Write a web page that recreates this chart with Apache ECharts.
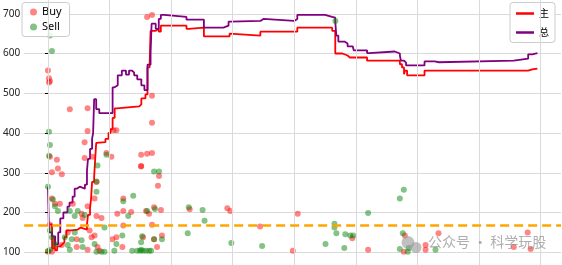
<!DOCTYPE html>
<html><head><meta charset="utf-8">
<script src="https://cdn.jsdelivr.net/npm/echarts/dist/echarts.min.js"></script>
<style>html,body{margin:0;padding:0;background:#fff;overflow:hidden;width:562px;height:265px}#c{position:absolute;left:0;top:-31.5px;width:562px;height:328px}</style>
</head><body><div id="c"></div>
<script>
// x = trading day index, y = value
const mainLine = [[2,170],[4,110],[6,140],[7,105],[9,115],[12,120],[14,125],[16,138],[18,155],[23,157],[29,162],[32,157],[38,169],[39,194],[41,211],[42,235],[43,277],[45,290],[46,333],[47,375],[48,377],[56,385],[59,400],[61,410],[63,438],[65,462],[67,467],[89,472],[91,487],[95,497],[97,565],[99,570],[100,657],[105,655],[106,662],[108,655],[110,670],[135,662],[137,665],[152,643],[177,650],[178,645],[207,655],[243,665],[277,657],[280,600],[287,595],[292,590],[294,585],[295,590],[311,582],[343,573],[345,565],[347,548],[348,557],[350,545],[367,557],[468,560],[472,562],[477,562]];
const totalLine = [[0,265],[1,150],[4,140],[7,120],[10,150],[12,185],[15,200],[19,215],[21,225],[24,240],[26,260],[28,265],[31,262],[34,260],[36,270],[38,305],[39,335],[41,360],[43,385],[44,400],[45,485],[47,460],[50,450],[63,515],[65,520],[68,545],[72,557],[76,547],[79,557],[82,552],[84,545],[87,535],[91,520],[94,508],[97,572],[100,600],[101,675],[105,662],[108,687],[110,697],[113,692],[135,685],[152,665],[171,670],[176,680],[178,684],[179,682],[207,687],[210,682],[240,687],[243,697],[270,692],[277,690],[280,680],[281,645],[283,630],[289,625],[292,618],[297,614],[298,608],[311,601],[313,605],[338,600],[343,594],[344,582],[347,577],[349,570],[367,580],[377,578],[381,582],[454,587],[468,598],[472,601],[477,601]];
const buyPoints = [[0,557],[1,538],[1.9,530],[1,527],[21.3,460],[38.6,462],[96.6,692],[101.4,697],[101.4,494],[101.4,426],[38.6,405],[63.8,407],[66.7,407],[1.9,340],[8.7,333],[3.9,301],[9.7,311],[13.5,296],[3.9,235],[6.8,222],[11.6,222],[24.2,222],[33.8,186],[45.4,235],[47.3,277],[47.3,191],[52.2,186],[1.9,169],[19.3,150],[40.6,155],[42.5,138],[45.4,142],[28,133],[13.5,118],[28,113],[48.3,113],[3.9,101],[38.6,106],[35.7,337],[43.5,340],[35.7,377],[32.8,197],[38.6,216],[0,101],[57,350],[61.8,340],[90.8,345],[96.6,348],[101.4,350],[90.8,317],[90.8,316],[108.2,292],[107.2,267],[73.4,235],[67.6,197],[73.4,204],[81.1,201],[95.6,204],[98.5,197],[103.4,213],[110.1,206],[73.4,167],[101.4,169],[62.8,133],[66.7,138],[72.5,113],[103.4,133],[111.1,142],[106.3,113],[50.2,104],[92.7,138],[138.1,208],[174.8,211],[177.7,204],[206.7,165],[243.4,197],[238.6,104],[296.6,135],[312,106],[347.8,142],[346.8,101],[368,118],[368,106],[380.6,148],[454,113],[467.5,150],[470.4,108]];
const sellPoints = [[1.9,664],[1.9,645],[3.9,606],[1,403],[1.9,370],[1,343],[0,265],[4.8,233],[6.8,216],[9.7,204],[21.3,204],[29,204],[26.1,191],[35.7,194],[47.3,252],[1.9,155],[26.1,150],[3.9,138],[16.4,138],[23.2,133],[32.8,130],[6.8,121],[19.3,118],[33.8,113],[45.4,121],[1.9,106],[21.3,106],[47.3,101],[52.2,101],[0,103],[57,345],[48.3,318],[47.3,278],[103.4,303],[108.2,303],[83.1,242],[73.4,228],[78.2,191],[96.6,204],[104.3,209],[55.1,162],[72.5,142],[66.7,121],[91.8,140],[111.1,133],[103.4,133],[90.8,125],[90.8,106],[86.9,104],[89.8,104],[92.7,104],[95.6,104],[98.5,104],[100.5,104],[82.1,104],[64.7,104],[55.1,101],[136.2,148],[137.2,213],[150.7,206],[152.6,179],[178.7,123],[208.7,116],[279.2,172],[279.2,162],[281.1,148],[270.5,121],[288.8,111],[289.8,145],[294.6,142],[297.5,142],[312,199],[280.1,682],[346.8,257],[342.9,235],[345.8,148],[342.9,108],[351.6,111],[350.7,101],[377.7,106]];
const xGridTicks = [0,60,120,180,240,300,360,420,480];
const threshold = 168;
const yMin = 0, yMax = 800, yStep = 100;
const xMin = -23.2, xMax = 500;

const OFF = 31.5; // div is shifted up by this many px
const chart = echarts.init(document.getElementById('c'), null, {renderer:'canvas'});
chart.setOption({
  animation:false,
  backgroundColor:'#ffffff',
  grid:{left:19,right:1,top:0,bottom:0,containLabel:false},
  xAxis:{type:'value',min:xMin,max:xMax,axisLine:{show:false},axisTick:{show:false},axisLabel:{show:false},splitLine:{show:false}},
  yAxis:{type:'value',min:yMin,max:yMax,interval:yStep,
    axisLine:{show:true,lineStyle:{color:'#000',width:1}},
    axisTick:{show:true,length:3,lineStyle:{color:'#000'}},
    axisLabel:{margin:4,fontSize:10,color:'#222',fontFamily:'Noto Sans'},
    splitLine:{show:true,lineStyle:{color:'#dadada',width:1}}},
  legend:[
    {data:['Buy','Sell'],orient:'vertical',left:22,top:2+OFF,icon:'circle',itemWidth:7,itemHeight:7,itemGap:4,
     padding:[4,8,4,8],backgroundColor:'rgba(255,255,255,0.85)',borderColor:'#cccccc',borderWidth:1,borderRadius:3,
     textStyle:{fontSize:11,color:'#000',fontFamily:'Noto Sans'}},
    {data:['主','总'],orient:'vertical',right:7,top:2+OFF,icon:'rect',itemWidth:18,itemHeight:2.5,itemGap:9,
     padding:[6,6,5,6],backgroundColor:'rgba(255,255,255,0.85)',borderColor:'#cccccc',borderWidth:1,borderRadius:3,
     textStyle:{fontSize:10,color:'#000',fontFamily:'Noto Sans CJK SC'}}
  ],
  series:[
    {name:'_grid',type:'line',data:[],silent:true,z:0,
     markLine:{silent:true,symbol:'none',label:{show:false},animation:false,
       lineStyle:{color:'#dadada',width:1,type:'solid'},
       data:xGridTicks.map(v=>({xAxis:v}))}},
    {name:'主',type:'line',step:'end',data:mainLine,showSymbol:false,z:2,
     itemStyle:{color:'#ff0000'},lineStyle:{color:'#ff0000',width:1.8}},
    {name:'总',type:'line',step:'end',data:totalLine,showSymbol:false,z:2,
     itemStyle:{color:'#800080'},lineStyle:{color:'#800080',width:1.8}},
    {name:'Buy',type:'scatter',data:buyPoints,symbolSize:6,z:3,
     itemStyle:{color:'rgba(255,0,0,0.6)'}},
    {name:'Sell',type:'scatter',data:sellPoints,symbolSize:6,z:3,
     itemStyle:{color:'rgba(0,128,0,0.6)'}},
    {name:'_thr',type:'line',data:[],silent:true,z:4,
     markLine:{silent:true,symbol:'none',label:{show:false},animation:false,
       lineStyle:{color:'#ffa500',width:2.5,type:[9,5]},
       data:[{yAxis:threshold}]}}
  ],
  graphic:[
    {type:'circle',shape:{cx:408,cy:242+OFF,r:6.5},style:{fill:'rgba(150,150,150,0.6)'},z:10},
    {type:'circle',shape:{cx:416,cy:247+OFF,r:5.5},style:{fill:'rgba(150,150,150,0.6)'},z:10},
    {type:'text',left:428,top:234+OFF,style:{text:'公众号 · 科学玩股',fontSize:14,fill:'rgba(130,130,130,0.65)',fontFamily:'Noto Sans CJK SC'},z:10}
  ]
});
</script></body></html>
